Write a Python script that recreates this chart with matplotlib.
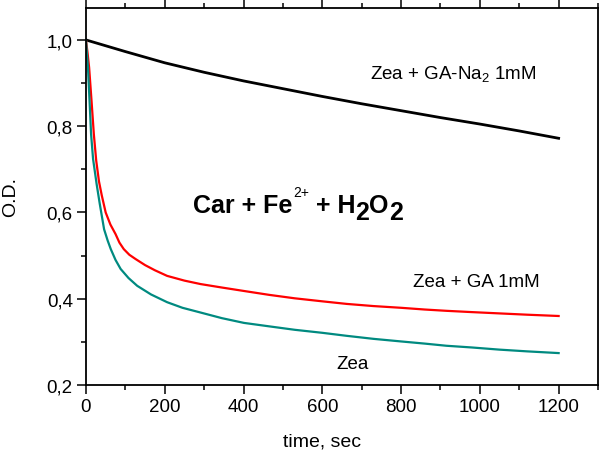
import matplotlib

matplotlib.use("Agg")

import matplotlib.pyplot as plt
from matplotlib.ticker import MultipleLocator, FuncFormatter

plt.rcParams["font.family"] = ["Liberation Sans", "DejaVu Sans"]
plt.rcParams["mathtext.fontset"] = "custom"
plt.rcParams["mathtext.rm"] = "Liberation Sans"
plt.rcParams["mathtext.default"] = "rm"

# curves (time in sec, O.D.)
na2_t = [0, 100, 200, 300, 400, 500, 600, 700, 800, 900, 1000, 1100, 1200]
na2_od = [1.0, 0.973, 0.947, 0.925, 0.905, 0.887, 0.869, 0.852, 0.836, 0.820, 0.805, 0.789, 0.772]

ga_t = [0, 4, 8, 14, 20, 26, 33, 40, 50, 62, 75, 85, 96, 110, 126, 150, 175, 206, 250,
        291, 345, 401, 465, 530, 600, 662, 730, 800, 860, 915, 980, 1050, 1120, 1200]
ga_od = [1.0, 0.97, 0.936, 0.86, 0.781, 0.72, 0.672, 0.64, 0.600, 0.572, 0.550, 0.530,
         0.515, 0.502, 0.492, 0.478, 0.466, 0.453, 0.442, 0.434, 0.426, 0.418, 0.409,
         0.401, 0.394, 0.388, 0.383, 0.379, 0.375, 0.372, 0.369, 0.366, 0.363, 0.360]

zea_t = [0, 3, 5, 9, 13, 18, 27, 35, 46, 55, 63, 75, 88, 108, 130, 165, 206, 245, 291,
         345, 401, 465, 530, 600, 662, 730, 800, 860, 915, 980, 1050, 1120, 1200]
zea_od = [1.0, 0.96, 0.936, 0.86, 0.781, 0.724, 0.666, 0.62, 0.561, 0.535, 0.515, 0.49,
          0.469, 0.448, 0.430, 0.41, 0.392, 0.379, 0.368, 0.355, 0.344, 0.336, 0.328,
          0.321, 0.314, 0.307, 0.301, 0.296, 0.291, 0.287, 0.282, 0.278, 0.274]

fig = plt.figure(figsize=(6, 4.52), dpi=100)
ax = fig.add_axes([0.1433, 0.146, 0.8534, 0.835])

ax.plot(na2_t, na2_od, color="black", lw=2)
ax.plot(ga_t, ga_od, color="#ff0000", lw=1.6)
ax.plot(zea_t, zea_od, color="#008a80", lw=1.6)

ax.set_xlim(0, 1300)
ax.set_ylim(0.2, 1.075)
ax.xaxis.set_major_locator(MultipleLocator(200))
ax.xaxis.set_minor_locator(MultipleLocator(100))
ax.yaxis.set_major_locator(MultipleLocator(0.2))
ax.yaxis.set_minor_locator(MultipleLocator(0.1))
ax.yaxis.set_major_formatter(FuncFormatter(lambda v, p: ("%.1f" % v).replace(".", ",")))
ax.tick_params(which="major", direction="out", length=6.5, width=1.1, labelsize=13.5,
               top=True, pad=3)
ax.tick_params(which="minor", direction="out", length=3.6, width=1.1, top=True)
for sp in ax.spines.values():
    sp.set_linewidth(1.3)

ax.set_xlabel("time, sec", fontsize=14)
ax.xaxis.set_label_coords(0.4615, -0.125)
ax.set_ylabel("O.D.", fontsize=14)
ax.yaxis.set_label_coords(-0.13, 0.5)

ax.text(721, 0.911, r"Zea + GA-Na$_2$ 1mM", fontsize=13.5, va="baseline")
ax.text(831, 0.429, "Zea + GA 1mM", fontsize=13.5, va="baseline")
ax.text(636, 0.239, "Zea", fontsize=13.5, va="baseline")

# bold title built piece by piece: big subscripts, small superscript
base_y = 0.600
t = ax.text(272, base_y, "Car + Fe", fontsize=18, fontweight="bold", va="baseline")
pieces = [("2+", 10, "normal", 0.5, 12), (" + H", 18, "bold", 0, 0),
          ("2", 18, "bold", 0, -5), ("O", 18, "bold", 0, 0), ("2", 18, "bold", 0, -5)]
for s, size, weight, dx, dy in pieces:
    t = ax.annotate(s, xy=(1, base_y), xycoords=(t, "data"), xytext=(dx, dy),
                    textcoords="offset points", fontsize=size, fontweight=weight,
                    va="baseline")

plt.savefig("out.png", dpi=100)
